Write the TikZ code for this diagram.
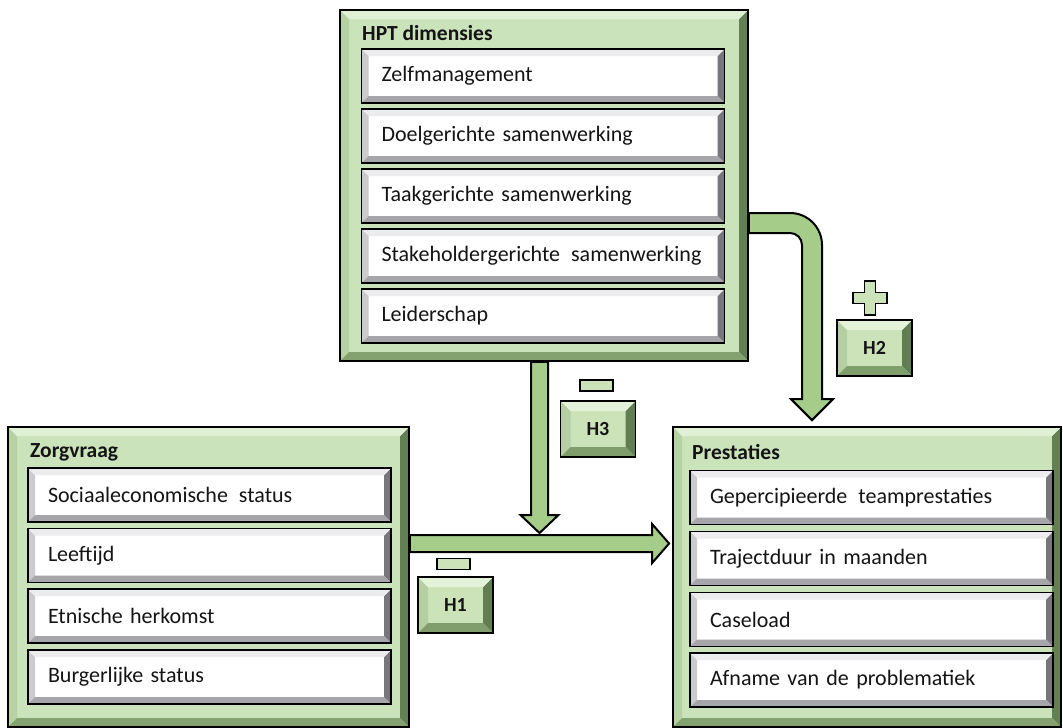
\documentclass[tikz,border=0pt]{standalone}
\usepackage{fontspec}
\setmainfont{Carlito}
\usetikzlibrary{calc}
\definecolor{gface}{RGB}{203,227,187}
\definecolor{gtop}{RGB}{224,240,213}
\definecolor{gleft}{RGB}{182,210,162}
\definecolor{gright}{RGB}{98,128,84}
\definecolor{gbot}{RGB}{132,162,112}
\definecolor{wtop}{RGB}{236,236,238}
\definecolor{wleft}{RGB}{202,202,207}
\definecolor{wright}{RGB}{118,118,124}
\definecolor{wbot}{RGB}{165,165,170}
\definecolor{hface}{RGB}{204,227,186}
\definecolor{htop}{RGB}{228,242,218}
\definecolor{hleft}{RGB}{182,207,162}
\definecolor{hright}{RGB}{96,126,82}
\definecolor{hbot}{RGB}{128,158,108}
\definecolor{arrowgreen}{RGB}{166,204,138}
\definecolor{txt}{RGB}{20,20,20}
\tikzset{
  bevel/.style n args={5}{path picture={
    \coordinate (pnw) at (path picture bounding box.north west);
    \coordinate (pne) at (path picture bounding box.north east);
    \coordinate (psw) at (path picture bounding box.south west);
    \coordinate (pse) at (path picture bounding box.south east);
    \fill[#3] (pnw) -- (psw) -- ([xshift=#1,yshift=#1]psw) -- ([xshift=#1,yshift=-#1]pnw) -- cycle;
    \fill[#4] (pne) -- (pse) -- ([xshift=-#1,yshift=#1]pse) -- ([xshift=-#1,yshift=-#1]pne) -- cycle;
    \fill[#2] (pnw) -- (pne) -- ([xshift=-#1,yshift=-#1]pne) -- ([xshift=#1,yshift=-#1]pnw) -- cycle;
    \fill[#5] (psw) -- (pse) -- ([xshift=-#1,yshift=#1]pse) -- ([xshift=#1,yshift=#1]psw) -- cycle;
  }},
  outerbox/.style={draw=black, line width=1.8pt, fill=gface, inner sep=0pt,
    bevel={9pt}{gtop}{gleft}{gright}{gbot}},
  innerbox/.style={draw=black, line width=1.6pt, fill=white,
    bevel={7pt}{wtop}{wleft}{wright}{wbot},
    minimum width=363pt, minimum height=54pt, text width=323pt,
    inner xsep=20pt, inner ysep=0pt, align=left, text=txt,
    font=\fontsize{22}{25}\selectfont},
  titletext/.style={anchor=west, inner sep=0pt, text=txt,
    font=\bfseries\fontsize{21.5}{25}\selectfont},
  hbox/.style={draw=black, line width=1.6pt, fill=hface,
    bevel={10pt}{htop}{hleft}{hright}{hbot},
    minimum width=75pt, minimum height=56pt, inner sep=0pt, text=txt,
    font=\bfseries\fontsize{20}{23}\selectfont},
  minus/.style={draw=black, line width=1.6pt, fill=hface,
    minimum width=33pt, minimum height=11pt, inner sep=0pt},
  blockarrow/.style={fill=arrowgreen, draw=black, line width=2pt, line join=miter},
}
\begin{document}
\begin{tikzpicture}[x=1pt,y=-1pt]
\useasboundingbox[fill=white] (0,0) rectangle (1063,728);

% outer containers
\node[outerbox, minimum width=408pt, minimum height=351pt] (hpt) at (544,185.5) {};
\node[outerbox, minimum width=401pt, minimum height=300pt] (zorg) at (208.5,577) {};
\node[outerbox, minimum width=388pt, minimum height=300pt] (prest) at (867,577) {};

% titles
\node[titletext] (hpttitle) at (362,33) {HPT dimensies};
\node[titletext] (zorgtitle) at (30,452) {Zorgvraag};
\node[titletext] (presttitle) at (692,452) {Prestaties};

% HPT items
\node[innerbox] (zelf) at (543,76) {Zelfmanagement};
\node[innerbox] (doel) at (543,136) {Doelgerichte samenwerking};
\node[innerbox] (taak) at (543,196) {Taakgerichte samenwerking};
\node[innerbox] (stake) at (543,256) {\mbox{Stakeholdergerichte\hspace{0.5em}samenwerking}};
\node[innerbox] (leid) at (543,316) {Leiderschap};

% Zorgvraag items
\node[innerbox] (ses) at (209.5,495) {Sociaaleconomische\hspace{0.5em}status};
\node[innerbox] (leef) at (209.5,555.5) {Leeftijd};
\node[innerbox] (etn) at (209.5,616) {Etnische herkomst};
\node[innerbox] (burg) at (209.5,677) {Burgerlijke status};

% Prestaties items
\node[innerbox] (gep) at (871.5,497.5) {Gepercipieerde\hspace{0.5em}teamprestaties};
\node[innerbox] (traj) at (871.5,558.5) {Trajectduur in maanden};
\node[innerbox] (case) at (871.5,619.5) {Caseload};
\node[innerbox] (afn) at (871.5,680) {Afname van de problematiek};

% arrow coordinates
\coordinate (h1s) at ([yshift=33.5pt]zorg.east);
\coordinate (h1e) at ($(prest.west |- h1s)+(-3,0)$);
\coordinate (h3s) at ([xshift=-4.5pt]hpt.south);
\coordinate (h3e) at ($(h3s |- h1s)+(0,-10.5)$);
\coordinate (h2s) at ([yshift=-37.5pt]hpt.east);
\coordinate (h2e) at ($(prest.north)+(-55,-6)$);
\coordinate (h2c) at (h2e |- h2s);

% H3 arrow (down)
\draw[blockarrow] ($(h3s)+(-8.5,0)$) -- ($(h3e)+(-8.5,-18)$) -- ($(h3e)+(-19,-18)$)
  -- (h3e) -- ($(h3e)+(19,-18)$) -- ($(h3e)+(8.5,-18)$) -- ($(h3s)+(8.5,0)$) -- cycle;

% H1 arrow (right)
\draw[blockarrow] ($(h1s)+(0,-8.5)$) -- ($(h1e)+(-17,-8.5)$) -- ($(h1e)+(-17,-19.5)$)
  -- (h1e) -- ($(h1e)+(-17,19.5)$) -- ($(h1e)+(-17,8.5)$) -- ($(h1s)+(0,8.5)$) -- cycle;

% H2 bent arrow
\draw[blockarrow] ($(h2s)+(0,-10)$) -- ($(h2c)+(-22,-10)$)
  arc[start angle=90, end angle=0, radius=32pt]
  -- ($(h2e)+(10,-21)$) -- ($(h2e)+(21,-21)$) -- (h2e) -- ($(h2e)+(-21,-21)$)
  -- ($(h2e)+(-10,-21)$) -- ($(h2c)+(-10,22)$)
  arc[start angle=0, end angle=90, radius=12pt]
  -- ($(h2s)+(0,10)$) -- cycle;

% hypothesis labels
\node[hbox] (H1) at (455.5,605) {H1};
\node[hbox] (H3) at (598,429) {H3};
\node[hbox] (H2) at (874.5,348) {H2};
\node[minus] (m1) at (453.5,564) {};
\node[minus] (m3) at (596.5,385.5) {};
\draw[draw=black, line width=1.6pt, fill=hface]
  (864.5,281) -- (875.5,281) -- (875.5,292.5) -- (887,292.5) -- (887,303.5)
  -- (875.5,303.5) -- (875.5,315) -- (864.5,315) -- (864.5,303.5) -- (853,303.5)
  -- (853,292.5) -- (864.5,292.5) -- cycle;
\end{tikzpicture}
\end{document}
